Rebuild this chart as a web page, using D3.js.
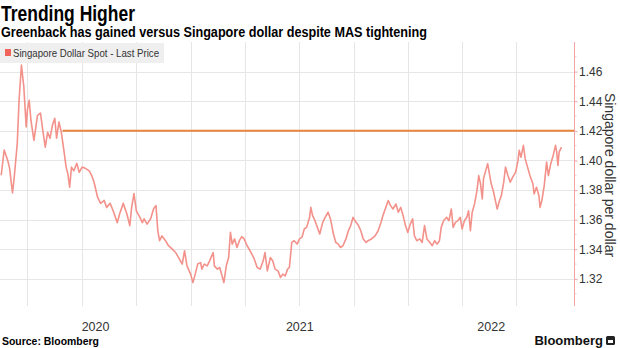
<!DOCTYPE html>
<html>
<head>
<meta charset="utf-8">
<script src="https://cdn.jsdelivr.net/npm/d3@7"></script>
<style>
  body { margin: 0; background: #fff; }
  svg { display: block; }
</style>
</head>
<body>
<svg id="canvas"></svg>
<script>
// USD/SGD spot
let dates = [
  "2020-02-17","2020-02-22","2020-02-28","2020-03-02","2020-03-07","2020-03-10","2020-03-15","2020-03-18",
  "2020-03-22","2020-03-26","2020-03-30","2020-04-01","2020-04-04","2020-04-07","2020-04-12","2020-04-18",
  "2020-04-23","2020-04-27","2020-05-01","2020-05-05","2020-05-09","2020-05-13","2020-05-17","2020-05-20",
  "2020-05-24","2020-05-28","2020-06-02","2020-06-05","2020-06-08","2020-06-11","2020-06-14","2020-06-18",
  "2020-06-23","2020-06-27","2020-07-02","2020-07-08","2020-07-14","2020-07-18","2020-07-22","2020-07-28",
  "2020-08-02","2020-08-08","2020-08-12","2020-08-18","2020-08-23","2020-08-30","2020-09-03","2020-09-09",
  "2020-09-15","2020-09-20","2020-09-23","2020-09-27","2020-10-01","2020-10-07","2020-10-11","2020-10-14",
  "2020-10-19","2020-10-25","2020-10-30","2020-11-03","2020-11-06","2020-11-09","2020-11-13","2020-11-19",
  "2020-11-24","2020-11-30","2020-12-06","2020-12-11","2020-12-17","2020-12-21","2020-12-25","2020-12-31",
  "2021-01-04","2021-01-08","2021-01-12","2021-01-17","2021-01-19","2021-01-23","2021-01-28","2021-02-01",
  "2021-02-07","2021-02-09","2021-02-14","2021-02-18","2021-02-22","2021-02-25","2021-03-01","2021-03-05",
  "2021-03-08","2021-03-11","2021-03-15","2021-03-19","2021-03-23","2021-03-27","2021-03-31","2021-04-05",
  "2021-04-10","2021-04-16","2021-04-22","2021-04-27","2021-05-02","2021-05-05","2021-05-09","2021-05-14",
  "2021-05-18","2021-05-22","2021-05-27","2021-05-31","2021-06-04","2021-06-08","2021-06-12","2021-06-15",
  "2021-06-19","2021-06-23","2021-06-28","2021-07-02","2021-07-06","2021-07-10","2021-07-14","2021-07-19",
  "2021-07-21","2021-07-24","2021-07-28","2021-08-01","2021-08-05","2021-08-10","2021-08-14","2021-08-19",
  "2021-08-23","2021-08-28","2021-09-01","2021-09-05","2021-09-09","2021-09-13","2021-09-18","2021-09-22",
  "2021-09-26","2021-09-30","2021-10-05","2021-10-09","2021-10-13","2021-10-17","2021-10-22","2021-10-25",
  "2021-10-31","2021-11-06","2021-11-11","2021-11-16","2021-11-19","2021-11-24","2021-11-28","2021-12-02",
  "2021-12-06","2021-12-11","2021-12-15","2021-12-19","2021-12-23","2021-12-27","2021-12-31","2022-01-04",
  "2022-01-08","2022-01-11","2022-01-15","2022-01-20","2022-01-24","2022-01-28","2022-02-01","2022-02-06",
  "2022-02-10","2022-02-14","2022-02-18","2022-02-22","2022-02-25","2022-03-01","2022-03-06","2022-03-10",
  "2022-03-14","2022-03-17","2022-03-21","2022-03-25","2022-03-29","2022-04-01","2022-04-05","2022-04-09",
  "2022-04-12","2022-04-15","2022-04-18","2022-04-22","2022-04-26","2022-04-29","2022-05-02","2022-05-05",
  "2022-05-07","2022-05-10","2022-05-14","2022-05-17","2022-05-20","2022-05-24","2022-05-27","2022-05-30",
  "2022-06-03","2022-06-06","2022-06-10","2022-06-13","2022-06-17","2022-06-21","2022-06-25","2022-06-30",
  "2022-07-04","2022-07-06","2022-07-09","2022-07-13","2022-07-16","2022-07-20","2022-07-24","2022-07-29",
  "2022-07-31","2022-08-04","2022-08-08","2022-08-10","2022-08-13","2022-08-17","2022-08-21","2022-08-24",
  "2022-08-28","2022-09-01","2022-09-05","2022-09-07","2022-09-09","2022-09-11","2022-09-15"
]
let prices = [
  1.390,1.407,1.400,1.395,1.378,1.389,1.4115,1.4407,
  1.4644,1.4497,1.4226,1.434,1.4407,1.427,1.4136,1.4305,
  1.432,1.420,1.409,1.419,1.415,1.4237,1.4285,1.415,
  1.426,1.419,1.4047,1.3955,1.391,1.382,1.3955,1.393,
  1.398,1.392,1.3955,1.3945,1.393,1.3898,1.3853,1.375,
  1.371,1.373,1.3683,1.371,1.366,1.358,1.364,1.371,
  1.364,1.356,1.368,1.3776,1.366,1.3615,1.358,1.3606,
  1.357,1.3606,1.3674,1.3695,1.3526,1.3458,1.349,1.3458,
  1.3424,1.3403,1.3378,1.3344,1.330,1.339,1.3288,1.3234,
  1.3175,1.3234,1.330,1.331,1.3266,1.330,1.3288,1.3322,
  1.3378,1.3288,1.3266,1.3277,1.322,1.3175,1.3288,1.3344,
  1.3514,1.3435,1.347,1.3412,1.3458,1.3485,1.347,1.3424,
  1.339,1.3344,1.3277,1.3266,1.3322,1.3378,1.3254,1.3344,
  1.3322,1.3266,1.3254,1.321,1.3232,1.322,1.3266,1.3277,
  1.3446,1.3458,1.3435,1.347,1.348,1.3537,1.3548,1.3616,
  1.3683,1.3627,1.3593,1.3548,1.3503,1.3582,1.3616,1.365,
  1.3605,1.3503,1.3446,1.3435,1.3412,1.3424,1.347,1.3525,
  1.356,1.3616,1.3582,1.356,1.3525,1.347,1.3446,1.3458,
  1.347,1.3491,1.3525,1.3582,1.3627,1.3683,1.3729,1.3695,
  1.3672,1.3706,1.365,1.3683,1.3627,1.356,1.3514,1.357,
  1.3605,1.3491,1.3458,1.347,1.3446,1.356,1.347,1.3446,
  1.3424,1.3458,1.3435,1.3458,1.3548,1.3593,1.3616,1.3593,
  1.3672,1.3548,1.3582,1.3593,1.3616,1.3537,1.3593,1.3616,
  1.366,1.3525,1.365,1.3706,1.3796,1.3898,1.3842,1.374,
  1.3876,1.3921,1.3978,1.391,1.3842,1.3785,1.3729,1.3672,
  1.3729,1.3763,1.3853,1.3955,1.3898,1.3853,1.3887,1.3921,
  1.400,1.4068,1.4022,1.4102,1.4012,1.3955,1.3898,1.3842,
  1.3774,1.3819,1.3763,1.3683,1.3729,1.383,1.3989,1.3898,
  1.3978,1.4034,1.4102,1.4056,1.3966,1.4056,1.409
]
let refLevel = 1.42
let refStart = "2020-05-30"
let yTicks = [1.32, 1.34, 1.36, 1.38, 1.40, 1.42, 1.44, 1.46]
let yMinorTicks = [1.31, 1.33, 1.35, 1.37, 1.39, 1.41, 1.43, 1.45, 1.47]
let yearLabels = ["2020", "2021", "2022"]

let width = 620
let height = 348
let plotLeft = 0
let plotRight = 574
let plotTop = 42
let plotBottom = 306

let parse = d3.timeParse("%Y-%m-%d")
let data = dates.map((d, i) => ({ date: parse(d), value: prices[i] }))

let svg = d3.select("#canvas").attr("width", width).attr("height", height)

let x = d3.scaleTime()
          .domain([parse("2020-02-15"), parse("2022-10-06")])
          .range([plotLeft, plotRight])

let y = d3.scaleLinear()
          .domain([1.30, 1.48])
          .range([308.5, 42])

// grid
let quarters = d3.timeMonth.every(3).range(x.domain()[0], x.domain()[1])
svg.append("g")
   .selectAll("line")
   .data(quarters.filter(d => x(d) < plotRight - 6))
   .enter()
   .append("line")
   .attr("x1", d => Math.round(x(d)) + 0.5)
   .attr("x2", d => Math.round(x(d)) + 0.5)
   .attr("y1", plotTop)
   .attr("y2", plotBottom)
   .attr("stroke", "#e6e6e6")
   .attr("stroke-width", 1)

svg.append("g")
   .selectAll("line")
   .data(yTicks)
   .enter()
   .append("line")
   .attr("x1", plotLeft)
   .attr("x2", plotRight)
   .attr("y1", d => Math.round(y(d)) + 0.5)
   .attr("y2", d => Math.round(y(d)) + 0.5)
   .attr("stroke", "#e6e6e6")
   .attr("stroke-width", 1)

// legend
svg.append("rect")
   .attr("x", 0).attr("y", 43)
   .attr("width", 164).attr("height", 20)
   .attr("fill", "#efefef")
svg.append("rect")
   .attr("x", 5).attr("y", 49)
   .attr("width", 6).attr("height", 7)
   .attr("fill", "#f0645c")
svg.append("text")
   .attr("x", 13).attr("y", 57)
   .attr("font-family", "Liberation Sans, Arial, sans-serif")
   .attr("font-size", 10.5)
   .attr("textLength", 146)
   .attr("lengthAdjust", "spacingAndGlyphs")
   .attr("fill", "#333")
   .text("Singapore Dollar Spot - Last Price")

// reference level
svg.append("line")
   .attr("x1", x(parse(refStart)))
   .attr("x2", plotRight)
   .attr("y1", y(refLevel))
   .attr("y2", y(refLevel))
   .attr("stroke", "#e8843c")
   .attr("stroke-width", 2)

// price line
let line = d3.line()
             .x(d => x(d.date))
             .y(d => y(d.value))

svg.append("path")
   .datum(data)
   .attr("d", line)
   .attr("fill", "none")
   .attr("stroke", "#f3918b")
   .attr("stroke-width", 1.6)
   .attr("stroke-linejoin", "round")

// right axis
let axis = d3.axisRight(y)
             .tickValues(yTicks)
             .tickSize(3)
             .tickSizeOuter(0)
             .tickFormat(d3.format(".2f"))

let axisG = svg.append("g")
               .attr("transform", "translate(" + (plotRight + 0.5) + ",0)")
               .call(axis)
axisG.select(".domain").attr("stroke", "#f4a3a3").attr("d", "M0," + plotTop + "V" + plotBottom)
axisG.selectAll(".tick line").attr("stroke", "#f4a3a3")
axisG.selectAll(".tick text")
     .attr("x", 4.5)
     .attr("font-family", "Liberation Sans, Arial, sans-serif")
     .attr("font-size", 12)
     .attr("fill", "#333")

axisG.append("g")
     .selectAll("line")
     .data(yMinorTicks)
     .enter()
     .append("line")
     .attr("x1", 0).attr("x2", 2)
     .attr("y1", d => y(d)).attr("y2", d => y(d))
     .attr("stroke", "#f7c4c4")

svg.append("text")
   .attr("transform", "translate(605,175) rotate(90)")
   .attr("text-anchor", "middle")
   .attr("font-family", "Liberation Sans, Arial, sans-serif")
   .attr("font-size", 14)
   .attr("fill", "#333")
   .text("Singapore dollar per dollar")

// year labels, centred on the visible part of each year
svg.append("g")
   .selectAll("text")
   .data(yearLabels)
   .enter()
   .append("text")
   .attr("x", d => {
     let a = Math.max(x(parse(d + "-01-01")), plotLeft)
     let b = Math.min(x(parse((+d + 1) + "-01-01")), plotRight)
     return (a + b) / 2
   })
   .attr("y", 331)
   .attr("text-anchor", "middle")
   .attr("font-family", "Liberation Sans, Arial, sans-serif")
   .attr("font-size", 12.5)
   .attr("fill", "#333")
   .text(d => d)

// titles
svg.append("text")
   .attr("x", 1).attr("y", 21)
   .attr("font-family", "Liberation Sans Narrow, Arial Narrow, Liberation Sans, sans-serif")
   .attr("font-weight", "bold")
   .attr("font-size", 22)
   .attr("textLength", 134)
   .attr("lengthAdjust", "spacingAndGlyphs")
   .attr("fill", "#000")
   .text("Trending Higher")

svg.append("text")
   .attr("x", 1).attr("y", 37)
   .attr("font-family", "Liberation Sans Narrow, Arial Narrow, Liberation Sans, sans-serif")
   .attr("font-weight", "bold")
   .attr("font-size", 14)
   .attr("textLength", 426)
   .attr("lengthAdjust", "spacingAndGlyphs")
   .attr("fill", "#000")
   .text("Greenback has gained versus Singapore dollar despite MAS tightening")

svg.append("text")
   .attr("x", 2).attr("y", 345)
   .attr("font-family", "Liberation Sans, Arial, sans-serif")
   .attr("font-weight", "bold")
   .attr("font-size", 10)
   .attr("textLength", 97)
   .attr("lengthAdjust", "spacingAndGlyphs")
   .attr("fill", "#000")
   .text("Source: Bloomberg")

svg.append("text")
   .attr("x", 603).attr("y", 345)
   .attr("text-anchor", "end")
   .attr("font-family", "Liberation Sans, Arial, sans-serif")
   .attr("font-weight", "bold")
   .attr("font-size", 13)
   .attr("fill", "#111")
   .text("Bloomberg")

svg.append("rect")
   .attr("x", 606).attr("y", 336)
   .attr("width", 9).attr("height", 9)
   .attr("rx", 1.5)
   .attr("fill", "#222")
svg.append("rect")
   .attr("x", 608).attr("y", 340)
   .attr("width", 5).attr("height", 3)
   .attr("fill", "#fff")
</script>
</body>
</html>
